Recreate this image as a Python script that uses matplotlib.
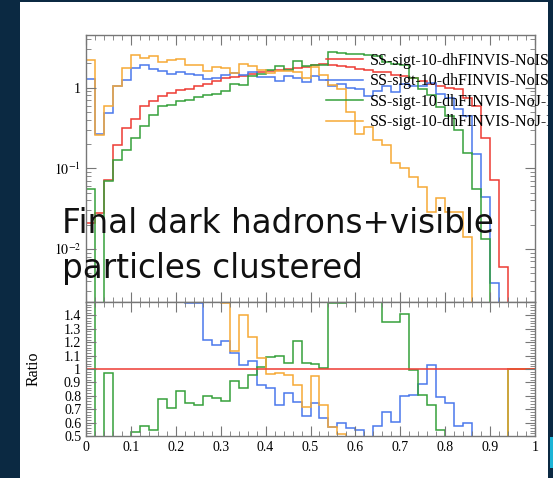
import numpy as np
import matplotlib.pyplot as plt
from matplotlib.patches import Rectangle
from matplotlib.ticker import MultipleLocator, FixedLocator, FuncFormatter, LogLocator

plt.rcParams['font.family'] = ['Liberation Serif', 'DejaVu Serif']
plt.rcParams['mathtext.fontset'] = 'stix'

# 50 bins from 0 to 1
edges = np.arange(51) * 0.02

# top panel: normalised distributions
red = [0.021, 0.028, 0.072, 0.196, 0.316, 0.41, 0.59, 0.68, 0.78, 0.86,
       0.93, 0.96, 1.04, 1.11, 1.20, 1.32, 1.36, 1.41, 1.49, 1.55,
       1.59, 1.67, 1.71, 1.76, 1.81, 1.90, 1.95, 1.90, 1.85, 1.80,
       1.72, 1.65, 1.58, 1.55, 1.45, 1.38, 1.30, 1.20, 1.10, 1.05,
       1.00, 0.95, 0.75, 0.59, 0.24, 0.072, 0.006, 0, 0, 0]
blue = [1.29, 0.27, 0.48, 1.04, 1.26, 1.76, 1.89, 1.72, 1.59, 1.48,
        1.57, 1.48, 1.42, 1.29, 1.32, 1.42, 1.52, 1.45, 1.57, 1.36,
        1.36, 1.22, 1.40, 1.33, 1.16, 1.41, 1.23, 1.05, 1.10, 1.00,
        0.95, 0.78, 0.91, 1.05, 0.88, 1.10, 1.05, 1.06, 1.13, 0.83,
        0.75, 0.55, 0.45, 0.151, 0.044, 0.0038, 0, 0, 0, 0]
green = [0.056, 0, 0.070, 0.128, 0.17, 0.237, 0.337, 0.46, 0.59, 0.615,
         0.69, 0.71, 0.77, 0.82, 0.84, 0.90, 1.11, 1.09, 1.38, 1.48,
         1.64, 1.88, 1.67, 2.12, 1.88, 1.89, 1.93, 2.77, 2.70, 2.65,
         2.60, 2.55, 2.45, 2.10, 1.95, 1.90, 1.30, 0.95, 0.80, 0.57,
         0.45, 0.30, 0.155, 0.055, 0.0132, 0, 0, 0, 0, 0]
orange = [2.23, 0.26, 0.59, 1.04, 1.76, 2.52, 2.34, 2.45, 2.08, 2.23,
          2.29, 1.93, 1.89, 1.63, 1.81, 1.76, 1.54, 1.97, 1.84, 1.68,
          1.53, 1.62, 1.63, 1.55, 1.30, 1.80, 1.42, 1.08, 0.95, 0.50,
          0.268, 0.325, 0.226, 0.196, 0.118, 0.100, 0.079, 0.059, 0.029, 0.0427,
          0.029, 0.029, 0.0142, 0, 0, 0, 0, 0, 0, 0]

# ratio panel (to the red one)
r_red = [1, 1, 1, 1, 1, 1, 1, 1, 1, 1,
         1, 1, 1, 1, 1, 1, 1, 1, 1, 1,
         1, 1, 1, 1, 1, 1, 1, 1, 1, 1,
         1, 1, 1, 1, 1, 1, 1, 1, 1, 1,
         1, 1, 1, 1, 1, 1, 1, 1, 1, 1]
r_blue = [2, 2, 2, 2, 2, 2, 2, 2, 2, 2,
          2, 1.49, 1.49, 1.22, 1.18, 1.206, 1.12, 1.03, 1.056, 0.878,
          0.858, 0.729, 0.82, 0.754, 0.647, 0.744, 0.632, 0.57, 0.60, 0.557,
          0.545, 0, 0.577, 0.68, 0.607, 0.80, 0.806, 0.886, 1.03, 0.793,
          0.749, 0.575, 0.595, 0, 0, 0, 0, 1, 1, 1]
r_green = [2, 0, 0.97, 0, 0, 0.53, 0.577, 0.547, 0.778, 0.709,
           0.833, 0.746, 0.734, 0.796, 0.78, 0.764, 0.908, 0.858, 0.953, 1.013,
           1.087, 1.095, 1.045, 1.21, 1.047, 1.037, 1.01, 1.49, 1.49, 2,
           2, 2, 2, 1.35, 1.35, 1.41, 0.99, 0.806, 0.73, 0.545,
           0, 0, 0, 0, 0, 0, 0, 1, 1, 1]
r_orange = [2, 2, 2, 2, 2, 2, 2, 2, 2, 2,
            2, 2, 2, 2, 2, 1.49, 1.132, 1.40, 1.237, 1.082,
            0.963, 0.97, 0.953, 0.878, 0.72, 0.948, 0.73, 0.57, 0.516, 0,
            0, 0, 0, 0, 0, 0, 0, 0, 0, 0,
            0, 0, 0, 0, 0, 0, 0, 1, 1, 1]

labels = ['SS-sigt-10-dhFINVIS-NoISR', 'SS-sigt-10-dhFINVIS-NoISR-FSR',
          'SS-sigt-10-dhFINVIS-NoJ-ISR', 'SS-sigt-10-dhFINVIS-NoJ-FSR']
colors = ['#ee3b33', '#4a78ec', '#35a03a', '#f7a935']

W, H = 553, 478
fig = plt.figure(figsize=(W / 100, H / 100), dpi=100, facecolor='#0b2942')
fig.add_artist(Rectangle((20 / W, 0), 528 / W, (H - 2) / H, transform=fig.transFigure,
                         facecolor='white', edgecolor='none', zorder=-10))

ax = fig.add_axes([86 / W, (H - 302) / H, 449 / W, 267 / H])
ax2 = fig.add_axes([86 / W, (H - 436) / H, 449 / W, 134 / H], sharex=ax)

for vals, c, lab in zip([red, blue, green, orange], colors, labels):
    ax.stairs(vals, edges, color=c, lw=1.1, baseline=None, label=lab)
ax.set_yscale('log')
ax.set_ylim(0.0022, 4.5)
ax.set_xlim(0, 1)

for vals, c in zip([r_blue, r_green, r_orange], colors[1:]):
    ax2.stairs(vals, edges, color=c, lw=1.1, baseline=None)
ax2.stairs(r_red, edges, color=colors[0], lw=1.1, baseline=None)
ax2.set_ylim(0.5, 1.5)

frame_c = '#777777'
for a in (ax, ax2):
    for s in a.spines.values():
        s.set_color(frame_c)
        s.set_linewidth(1.0)
    a.tick_params(which='both', direction='in', top=True, right=True, color=frame_c,
                  labelsize=10)
    a.tick_params(which='major', length=7, width=0.8)
    a.tick_params(which='minor', length=3.5, width=0.6)
    a.xaxis.set_major_locator(MultipleLocator(0.1))
    a.xaxis.set_minor_locator(MultipleLocator(0.02))

ax.tick_params(labelbottom=False)
ax.yaxis.set_major_locator(FixedLocator([0.01, 0.1, 1]))
ax.yaxis.set_minor_locator(LogLocator(base=10, subs=np.arange(2, 10)))
ax.yaxis.set_major_formatter(FuncFormatter(
    lambda v, p: {1: '1', 0.1: r'$10^{-1}$', 0.01: r'$10^{-2}$'}.get(round(v, 3), '')))

ax2.yaxis.set_major_locator(MultipleLocator(0.1))
ax2.yaxis.set_minor_locator(MultipleLocator(0.02))
ax2.yaxis.set_major_formatter(FuncFormatter(lambda v, p: '%g' % round(v, 2) if v < 1.45 else ''))
ax2.xaxis.set_major_formatter(FuncFormatter(lambda v, p: '%g' % round(v, 2)))
ax2.set_ylabel('Ratio', fontsize=11.5)
ax2.yaxis.set_label_coords(-0.10, 0.5)

ax.legend(loc='upper left', bbox_to_anchor=(0.52, 0.958), frameon=False, fontsize=11.5,
          handlelength=2.3, handletextpad=0.45, labelspacing=0.29, borderaxespad=0)

# right navy edge cuts the legend text
fig.add_artist(Rectangle((548 / W, 0), 5 / W, 1, transform=fig.transFigure,
                         facecolor='#0b2942', edgecolor='none', zorder=10))
fig.add_artist(Rectangle((550 / W, (H - 468) / H), 3 / W, 31 / H, transform=fig.transFigure,
                         facecolor='#1cb4d6', edgecolor='none', zorder=11))

fig.text(62 / W, (H - 233) / H, 'Final dark hadrons+visible', fontsize=23.5,
         family=['DejaVu Sans'], color='#111111', va='baseline', zorder=20)
fig.text(62 / W, (H - 278) / H, 'particles clustered', fontsize=23.5,
         family=['DejaVu Sans'], color='#111111', va='baseline', zorder=20)

fig.savefig('out.png', dpi=100, facecolor=fig.get_facecolor())
